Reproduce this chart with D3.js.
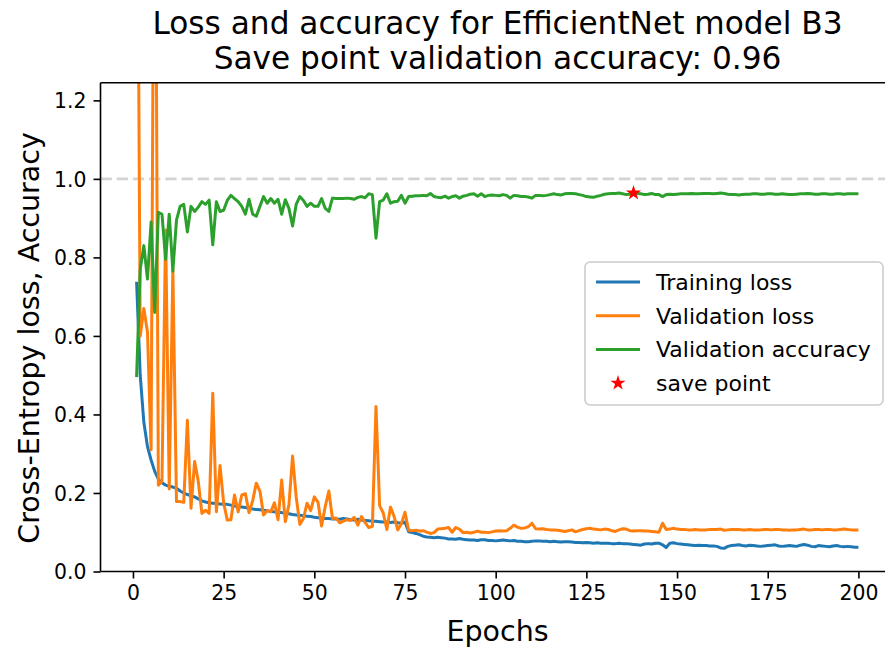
<!DOCTYPE html>
<html>
<head>
<meta charset="utf-8">
<script src="https://cdn.jsdelivr.net/npm/d3@7"></script>
<style>
  html, body { margin: 0; padding: 0; background: #fff; }
  svg { display: block; font-family: "DejaVu Sans", sans-serif; }
</style>
</head>
<body>
<svg id="chart" width="885" height="648"></svg>
<script>
// Training history of EfficientNet B3, one value per epoch (1..200)
const trainLoss = [
  0.738, 0.5, 0.38, 0.318, 0.284, 0.255, 0.235, 0.226, 0.22, 0.217,
  0.215, 0.212, 0.205, 0.2, 0.196, 0.193, 0.19, 0.185, 0.18, 0.177,
  0.175, 0.174, 0.173, 0.172, 0.171, 0.171, 0.169, 0.167, 0.165, 0.164,
  0.163, 0.161, 0.159, 0.158, 0.157, 0.156, 0.155, 0.153, 0.152, 0.15,
  0.15, 0.148, 0.147, 0.145, 0.144, 0.143, 0.142, 0.141, 0.14, 0.138,
  0.137, 0.136, 0.135, 0.135, 0.134, 0.134, 0.133, 0.135, 0.134, 0.132,
  0.131, 0.133, 0.131, 0.13, 0.129, 0.128, 0.128, 0.127, 0.126, 0.127,
  0.125, 0.126, 0.124, 0.123, 0.126, 0.101, 0.099, 0.097, 0.094, 0.09,
  0.088, 0.087, 0.086, 0.087, 0.086, 0.085, 0.083, 0.083, 0.082, 0.084,
  0.082, 0.081, 0.08, 0.08, 0.079, 0.081, 0.081, 0.079, 0.079, 0.078,
  0.079, 0.08, 0.079, 0.078, 0.079, 0.077, 0.077, 0.076, 0.076, 0.077,
  0.078, 0.078, 0.077, 0.077, 0.076, 0.077, 0.076, 0.075, 0.076, 0.076,
  0.075, 0.074, 0.074, 0.073, 0.074, 0.073, 0.072, 0.073, 0.072, 0.072,
  0.072, 0.071, 0.071, 0.072, 0.071, 0.071, 0.07, 0.069, 0.068, 0.067,
  0.07, 0.071, 0.07, 0.072, 0.072, 0.068, 0.061, 0.072, 0.073, 0.071,
  0.07, 0.069, 0.068, 0.067, 0.066, 0.067, 0.066, 0.066, 0.065, 0.065,
  0.064, 0.06, 0.059, 0.064, 0.066, 0.067, 0.068, 0.066, 0.065, 0.067,
  0.066, 0.065, 0.064, 0.065, 0.066, 0.067, 0.068, 0.065, 0.064, 0.065,
  0.066, 0.065, 0.064, 0.067, 0.069, 0.067, 0.064, 0.063, 0.066, 0.065,
  0.064, 0.063, 0.065, 0.066, 0.064, 0.063, 0.064, 0.063, 0.062, 0.062
];

const valLoss = [
  2.2, 0.6, 0.67, 0.61, 0.31, 2.2, 0.22, 0.23, 0.87, 0.21,
  0.77, 0.178, 0.178, 0.176, 0.385, 0.161, 0.28, 0.23, 0.148, 0.156,
  0.148, 0.454, 0.152, 0.27, 0.175, 0.131, 0.132, 0.195, 0.152, 0.195,
  0.198, 0.15, 0.18, 0.225, 0.205, 0.144, 0.155, 0.152, 0.175, 0.132,
  0.233, 0.127, 0.17, 0.294, 0.19, 0.12, 0.135, 0.174, 0.155, 0.19,
  0.177, 0.116, 0.165, 0.205, 0.135, 0.136, 0.124, 0.128, 0.132, 0.13,
  0.138, 0.118, 0.14, 0.125, 0.112, 0.115, 0.42, 0.168, 0.149, 0.107,
  0.164, 0.14, 0.106, 0.122, 0.151, 0.105, 0.104, 0.105, 0.103, 0.104,
  0.1, 0.097, 0.099, 0.108, 0.109, 0.11, 0.112, 0.1, 0.112, 0.108,
  0.099, 0.1, 0.098, 0.1, 0.103, 0.1, 0.1, 0.099, 0.101, 0.103,
  0.104, 0.103, 0.104, 0.11, 0.118, 0.113, 0.11, 0.111, 0.114, 0.123,
  0.109, 0.108, 0.109, 0.107, 0.106, 0.106, 0.105, 0.104, 0.102, 0.104,
  0.106, 0.101, 0.104, 0.107, 0.109, 0.11, 0.108, 0.107, 0.106, 0.108,
  0.107, 0.104, 0.102, 0.106, 0.109, 0.108, 0.104, 0.103, 0.104, 0.104,
  0.103, 0.103, 0.102, 0.101, 0.1, 0.123, 0.107, 0.108, 0.11, 0.108,
  0.107, 0.107, 0.106, 0.106, 0.107, 0.106, 0.106, 0.106, 0.107, 0.107,
  0.107, 0.108, 0.105, 0.106, 0.107, 0.107, 0.107, 0.106, 0.106, 0.107,
  0.106, 0.106, 0.106, 0.107, 0.107, 0.106, 0.107, 0.107, 0.106, 0.106,
  0.105, 0.106, 0.106, 0.107, 0.108, 0.106, 0.106, 0.107, 0.107, 0.106,
  0.107, 0.107, 0.106, 0.106, 0.107, 0.108, 0.107, 0.106, 0.106, 0.106
];

const valAcc = [
  0.495, 0.77, 0.83, 0.745, 0.89, 0.66, 0.915, 0.91, 0.795, 0.91,
  0.765, 0.895, 0.93, 0.935, 0.865, 0.93, 0.917, 0.928, 0.942, 0.935,
  0.946, 0.832, 0.942, 0.917, 0.92, 0.945, 0.958, 0.95, 0.942, 0.93,
  0.91, 0.948, 0.91, 0.905, 0.93, 0.955, 0.938, 0.95, 0.938, 0.948,
  0.91, 0.947, 0.925, 0.88, 0.935, 0.955, 0.945, 0.93, 0.938, 0.93,
  0.93, 0.95, 0.925, 0.917, 0.951, 0.95, 0.95, 0.95, 0.951, 0.95,
  0.948, 0.953, 0.955, 0.952, 0.962, 0.96, 0.849, 0.942, 0.946, 0.962,
  0.938, 0.942, 0.943, 0.958, 0.938, 0.955, 0.956, 0.957, 0.957, 0.958,
  0.957, 0.963, 0.955, 0.953, 0.952, 0.956, 0.951, 0.955, 0.957, 0.951,
  0.956, 0.958, 0.961, 0.962, 0.956, 0.962, 0.955, 0.958, 0.959, 0.958,
  0.957, 0.96, 0.958, 0.951, 0.958, 0.957, 0.955, 0.955, 0.954, 0.951,
  0.958, 0.958, 0.957, 0.958, 0.96, 0.962, 0.96, 0.959, 0.962, 0.963,
  0.963, 0.962, 0.96, 0.958, 0.955, 0.954, 0.953, 0.956, 0.958, 0.961,
  0.962, 0.963, 0.963, 0.964, 0.962, 0.96, 0.961, 0.964, 0.963, 0.962,
  0.96, 0.961, 0.963, 0.96, 0.96, 0.955, 0.96, 0.961, 0.96, 0.961,
  0.962, 0.962, 0.962, 0.963, 0.962, 0.962, 0.963, 0.963, 0.963, 0.962,
  0.963, 0.964, 0.963, 0.961, 0.96, 0.96, 0.959, 0.96, 0.961, 0.961,
  0.962, 0.962, 0.961, 0.961, 0.962, 0.962, 0.961, 0.961, 0.962, 0.961,
  0.96, 0.96, 0.961, 0.962, 0.962, 0.963, 0.962, 0.961, 0.961, 0.962,
  0.962, 0.961, 0.961, 0.962, 0.962, 0.961, 0.962, 0.962, 0.962, 0.962
];

const saveEpoch = 138;
const xTicks = [0, 25, 50, 75, 100, 125, 150, 175, 200];
const yTicks = [0.0, 0.2, 0.4, 0.6, 0.8, 1.0, 1.2];
const titleLines = ["Loss and accuracy for EfficientNet model B3",
                    "Save point validation accuracy: 0.96"];
const legendLabels = ["Training loss", "Validation loss", "Validation accuracy", "save point"];
const colors = { train: "#1f77b4", val: "#ff7f0e", acc: "#2ca02c", save: "red" };

const epochs = d3.range(1, trainLoss.length + 1);

// Axes box (right edge runs past the canvas)
const box = { left: 100.5, right: 894.5, top: 82.7, bottom: 571.5 };
const svg = d3.select("#chart");

const x = d3.scaleLinear().domain([-8.95, 209.95]).range([box.left, box.right]);
const y = d3.scaleLinear().domain([0, 1.245]).range([box.bottom, box.top]);

svg.append("defs").append("clipPath").attr("id", "plotclip")
  .append("rect")
  .attr("x", box.left).attr("y", box.top)
  .attr("width", box.right - box.left).attr("height", box.bottom - box.top);

const plot = svg.append("g").attr("clip-path", "url(#plotclip)");

// Reference line at accuracy 1.0
plot.append("line")
  .attr("x1", box.left).attr("x2", box.right)
  .attr("y1", y(1.0)).attr("y2", y(1.0))
  .attr("stroke", "lightgray").attr("stroke-width", 2.8)
  .attr("stroke-dasharray", "11.3,4.9");

const lineGen = vals => d3.line()
  .x((d, i) => x(epochs[i]))
  .y(d => y(d))(vals);

[[trainLoss, colors.train], [valLoss, colors.val], [valAcc, colors.acc]].forEach(([vals, c]) => {
  plot.append("path")
    .attr("d", lineGen(vals))
    .attr("fill", "none")
    .attr("stroke", c)
    .attr("stroke-width", 3)
    .attr("stroke-linejoin", "round");
});

// Save point marker
const star = d3.symbol().type(d3.symbolStar).size(72);
plot.append("path")
  .attr("d", star())
  .attr("transform", `translate(${x(saveEpoch)},${y(valAcc[saveEpoch - 1])})`)
  .attr("fill", colors.save);

// Spines
const spine = svg.append("g").attr("stroke", "#000").attr("stroke-width", 1.6).attr("fill", "none");
spine.append("line").attr("x1", box.left).attr("x2", box.left).attr("y1", box.top).attr("y2", box.bottom);
spine.append("line").attr("x1", box.left).attr("x2", box.right).attr("y1", box.bottom).attr("y2", box.bottom);
spine.append("line").attr("x1", box.left).attr("x2", box.right).attr("y1", box.top).attr("y2", box.top);

// Axes
const xAxis = d3.axisBottom(x).tickValues(xTicks).tickFormat(d3.format("d")).tickSize(7).tickPadding(7);
const yAxis = d3.axisLeft(y).tickValues(yTicks).tickFormat(d3.format(".1f")).tickSize(7).tickPadding(7);

const gx = svg.append("g").attr("transform", `translate(0,${box.bottom})`).call(xAxis);
const gy = svg.append("g").attr("transform", `translate(${box.left},0)`).call(yAxis);
[gx, gy].forEach(g => {
  g.select(".domain").remove();
  g.selectAll(".tick line").attr("stroke", "#000").attr("stroke-width", 1.6);
  g.selectAll(".tick text").attr("fill", "#000")
    .style("font-family", "DejaVu Sans").style("font-size", "20.4px");
});
gx.selectAll(".tick text").attr("dy", "0.71em");
gy.selectAll(".tick text").attr("dy", "0.36em");

// Axis labels
svg.append("text")
  .attr("x", (box.left + box.right) / 2).attr("y", 641)
  .attr("text-anchor", "middle")
  .style("font-size", "28.5px")
  .text("Epochs");

svg.append("text")
  .attr("transform", `translate(39,338) rotate(-90)`)
  .attr("text-anchor", "middle")
  .style("font-size", "28.5px")
  .text("Cross-Entropy loss, Accuracy");

// Title
titleLines.forEach((t, i) => {
  svg.append("text")
    .attr("x", (box.left + box.right) / 2).attr("y", 33.5 + i * 35)
    .attr("text-anchor", "middle")
    .style("font-size", "31.2px")
    .text(t);
});

// Legend
const leg = svg.append("g");
leg.append("rect")
  .attr("x", 585).attr("y", 262).attr("width", 298).attr("height", 143)
  .attr("rx", 5).attr("ry", 5)
  .attr("fill", "#fff").attr("fill-opacity", 0.8)
  .attr("stroke", "#cccccc").attr("stroke-width", 1.6);

const legendItems = [
  { label: legendLabels[0], color: colors.train, kind: "line" },
  { label: legendLabels[1], color: colors.val, kind: "line" },
  { label: legendLabels[2], color: colors.acc, kind: "line" },
  { label: legendLabels[3], color: colors.save, kind: "marker" }
];
legendItems.forEach((it, i) => {
  const cy = 282 + i * 33.7;
  if (it.kind === "line") {
    leg.append("line")
      .attr("x1", 596).attr("x2", 640).attr("y1", cy).attr("y2", cy)
      .attr("stroke", it.color).attr("stroke-width", 3);
  } else {
    leg.append("path").attr("d", star())
      .attr("transform", `translate(618,${cy})`)
      .attr("fill", it.color);
  }
  leg.append("text")
    .attr("x", 656).attr("y", cy).attr("dy", "0.36em")
    .style("font-size", "22px")
    .text(it.label);
});
</script>
</body>
</html>
